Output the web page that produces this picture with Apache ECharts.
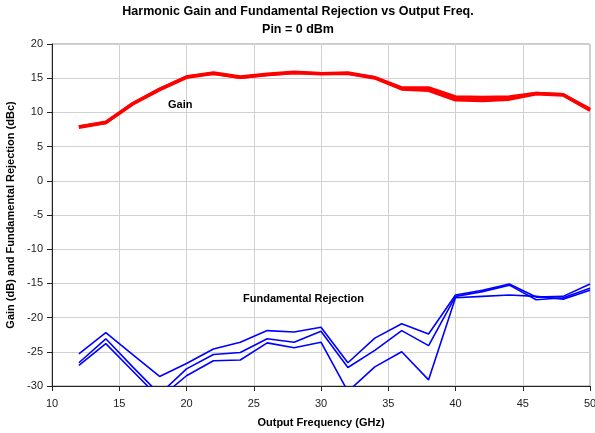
<!DOCTYPE html>
<html><head><meta charset="utf-8">
<script src="https://cdn.jsdelivr.net/npm/echarts@6/dist/echarts.min.js"></script>
<style>html,body{margin:0;padding:0;background:#fff}#c{width:595px;height:433px}</style>
</head><body><div id="c"></div>
<script>
const freq = [12,14,16,18,20,22,24,26,28,30,32,34,36,38,40,42,44,46,48,50];
const gainA = [7.9,8.6,11.3,13.4,15.2,15.8,15.2,15.6,15.9,15.7,15.8,15.1,13.6,13.6,12.3,12.2,12.3,12.8,12.6,10.5];
const gainB = [7.8,8.5,11.2,13.3,15.1,15.7,15.1,15.5,15.8,15.6,15.7,15.0,13.4,13.2,11.8,11.7,11.9,12.7,12.5,10.3];
const gainC = [7.9,8.5,11.3,13.4,15.2,15.7,15.1,15.5,15.8,15.7,15.7,15.1,13.5,13.4,12.0,11.9,12.1,12.8,12.6,10.4];
const rejA = [-25.3,-22.2,-25.4,-28.6,-26.7,-24.6,-23.6,-21.9,-22.1,-21.4,-26.6,-23.0,-20.9,-22.4,-16.7,-16.0,-15.1,-17.0,-16.9,-15.1];
const rejB = [-26.6,-23.1,-27.2,-31.2,-27.5,-25.4,-25.1,-23.1,-23.6,-22.0,-27.3,-24.8,-21.9,-24.1,-16.9,-16.2,-15.25,-17.4,-17.1,-15.7];
const rejC = [-27.0,-23.8,-27.8,-31.8,-28.5,-26.3,-26.2,-23.7,-24.4,-23.6,-30.8,-27.2,-25.0,-29.1,-17.1,-16.9,-16.7,-16.9,-17.3,-16.0];
const titleText = 'Harmonic Gain and Fundamental Rejection vs Output Freq.\nPin = 0 dBm';
const xName = 'Output Frequency (GHz)';
const yName = 'Gain (dB) and Fundamental Rejection (dBc)';
const gainLabel = 'Gain';
const rejLabel = 'Fundamental Rejection';

const FONT2 = '"Liberation Sans",Arial,sans-serif';
const pairs = a => freq.map((f,i)=>[f,a[i]]);
function redS(d){return {type:'line',data:pairs(d),symbol:'none',lineStyle:{color:'#ff0000',width:3},itemStyle:{color:'#ff0000'},z:3};}
function blueS(d){return {type:'line',data:pairs(d),symbol:'none',lineStyle:{color:'#0000ff',width:1.6},itemStyle:{color:'#0000ff'},z:2};}
const chart = echarts.init(document.getElementById('c'));
chart.setOption({
  animation:false,
  title:{text:titleText,left:298,top:3,padding:0,textAlign:'center',textStyle:{fontFamily:FONT2,fontWeight:'bold',fontSize:12.5,color:'#000',lineHeight:18}},
  grid:{left:52,right:5,top:44,bottom:47,show:true,borderColor:'#999',borderWidth:1,outerBoundsMode:'none',containLabel:false},
  xAxis:{type:'value',min:10,max:50,interval:5,name:xName,nameLocation:'middle',nameGap:31,
    nameTextStyle:{fontFamily:FONT2,fontWeight:'bold',fontSize:11,color:'#000'},
    axisLine:{onZero:false,lineStyle:{color:'#222'}},axisTick:{inside:false,length:5,lineStyle:{color:'#222'}},
    axisLabel:{fontFamily:FONT2,fontSize:11,color:'#222',margin:12},
    splitLine:{lineStyle:{color:'#d0d0d0',width:1}}},
  yAxis:{type:'value',min:-30,max:20,interval:5,name:yName,nameLocation:'middle',nameGap:35,
    nameTextStyle:{fontFamily:FONT2,fontWeight:'bold',fontSize:11,color:'#000'},
    axisLine:{show:true,onZero:false,lineStyle:{color:'#222'}},axisTick:{show:true,inside:false,length:5,lineStyle:{color:'#222'}},
    axisLabel:{fontFamily:FONT2,fontSize:11,color:'#222',margin:9},
    splitLine:{lineStyle:{color:'#d0d0d0',width:1}}},
  series:[blueS(rejA),blueS(rejB),blueS(rejC),redS(gainA),redS(gainB),redS(gainC)],
  graphic:[
    {type:'text',left:168,top:99,z:10,style:{text:gainLabel,font:'bold 11px '+FONT2,fill:'#000'}},
    {type:'text',left:243,top:293,z:10,style:{text:rejLabel,font:'bold 11px '+FONT2,fill:'#000'}}
  ]
});
</script></body></html>
